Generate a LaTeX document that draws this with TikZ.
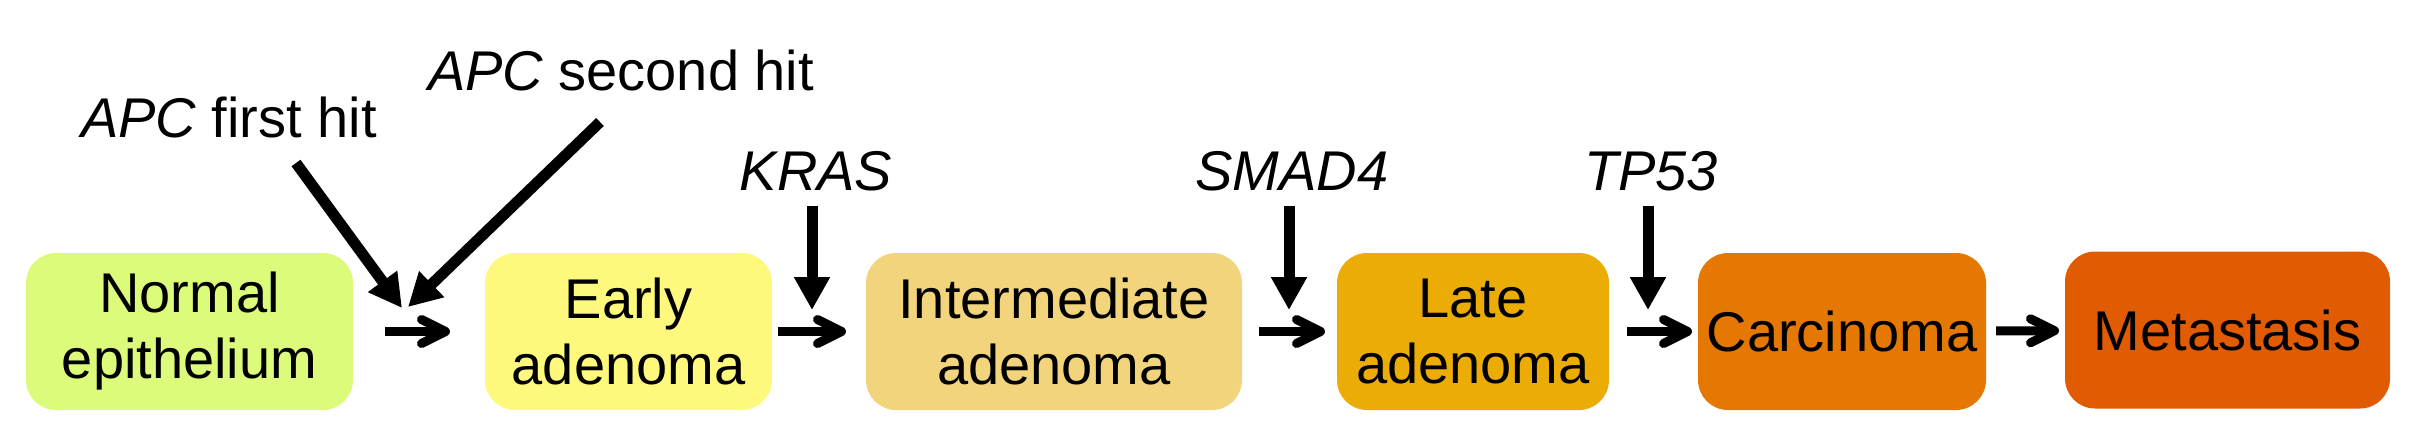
\documentclass[tikz,border=0pt]{standalone}
\usepackage{fontspec}
\setmainfont{Liberation Sans}
\usetikzlibrary{arrows.meta}
\definecolor{cNormal}{HTML}{DCFB7A}
\definecolor{cEarly}{HTML}{FEF97C}
\definecolor{cInter}{HTML}{F2D47D}
\definecolor{cLate}{HTML}{EBAD05}
\definecolor{cCarc}{HTML}{E47803}
\definecolor{cMeta}{HTML}{E05B02}
\begin{document}
\begin{tikzpicture}[x=0.5pt,y=-0.5pt,
  stage/.style={rounded corners=15pt, inner sep=0pt, outer sep=0pt,
    minimum height=78.5pt, align=center,
    font=\fontsize{28}{33}\selectfont, text=black},
  gene/.style={inner sep=0pt, outer sep=0pt, anchor=base,
    font=\fontsize{28}{33}\selectfont},
  hit/.style={line width=5.5pt, -{Triangle[length=16.5pt,width=17pt]}},
  flow/.style={line width=4.5pt,
    -{Straight Barb[length=12pt,width=12pt,line cap=round,line join=round]}}
]
\useasboundingbox (0,0) rectangle (2430,436);

% stages
\node[stage, fill=cNormal, minimum width=163.5pt] (normal) at (189.5,331.5) {Normal\\epithelium};
\node[stage, fill=cEarly,  minimum width=143.5pt] (early)  at (628.5,331.5) {Early\\adenoma};
\node[stage, fill=cInter,  minimum width=188pt]   (inter)  at (1054,331.5)  {Intermediate\\adenoma};
\node[stage, fill=cLate,   minimum width=136pt]   (late)   at (1473,331.5)  {Late\\adenoma};
\node[stage, fill=cCarc,   minimum width=144pt]   (carc)   at (1842,331.5)  {Carcinoma};
\node[stage, fill=cMeta,   minimum width=162.5pt] (meta)   at (2227.5,330)  {Metastasis};

% flow arrows
\draw[flow, shorten <=16pt,  shorten >=17.5pt] (normal) -- (early);
\draw[flow, shorten <=3pt,   shorten >=10pt]   (early) -- (inter);
\draw[flow, shorten <=8.5pt, shorten >=6pt]    (inter) -- (late);
\draw[flow, shorten <=9pt,   shorten >=3pt]    (late) -- (carc);
\draw[flow, shorten <=5pt,   shorten >=3pt]    (carc) -- (meta);

% gene labels
\node[gene] (apc1) at (229,137) {{\itshape APC} first hit};
\node[gene] (apc2) at (621,90)  {{\itshape APC} second hit};
\node[gene] (kras) at (816,190) {\itshape KRAS};
\node[gene] (smad) at (1292,190) {\itshape SMAD4};
\node[gene] (tp)   at (1651,190) {\itshape TP53};

% hit arrows
\coordinate (a1s) at (296,163);
\coordinate (a1e) at (402,308);
\coordinate (a2s) at (600,122);
\coordinate (a2e) at (408,307);
\draw[hit] (a1s) -- (a1e);
\draw[hit] (a2s) -- (a2e);
\coordinate (kt) at (812,310);
\coordinate (st) at (1289,310);
\coordinate (tt) at (1648,310);
\draw[hit, shorten <=7.5pt] (kras.south -| kt) -- (kt);
\draw[hit, shorten <=7.5pt] (smad.south -| st) -- (st);
\draw[hit, shorten <=7.5pt] (tp.south -| tt) -- (tt);
\end{tikzpicture}
\end{document}
